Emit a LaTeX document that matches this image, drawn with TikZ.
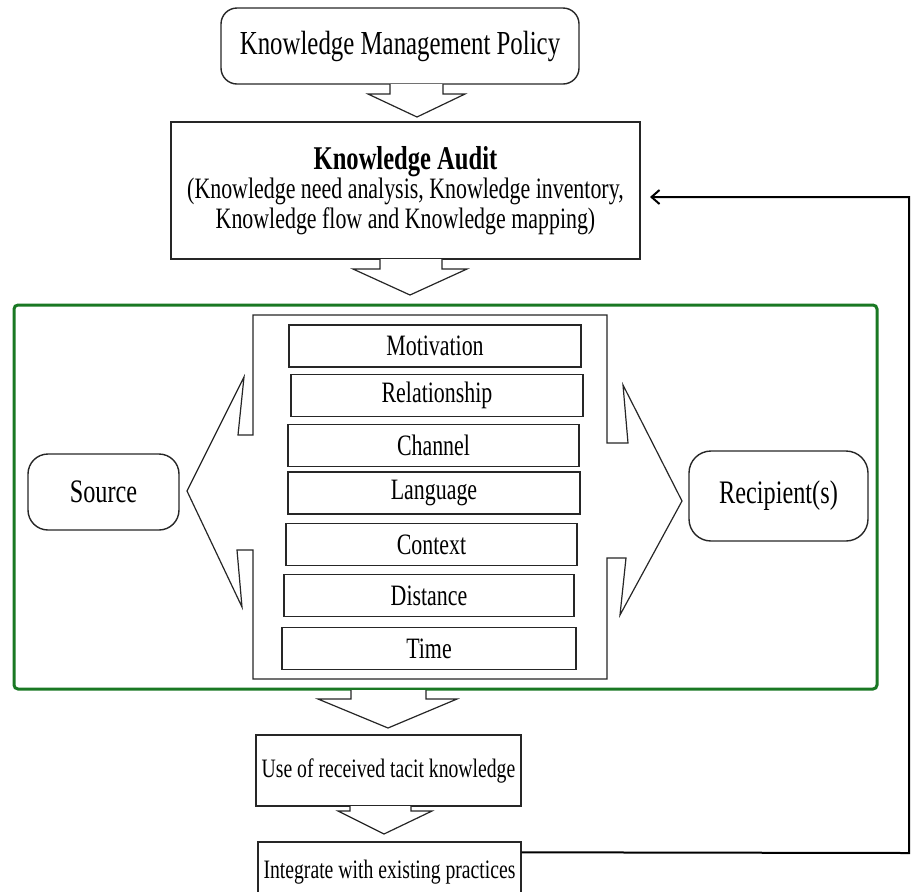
\documentclass[tikz,border=0pt]{standalone}
\usepackage{fontspec}
\setmainfont{Liberation Serif}[FakeStretch=0.74]
\usepackage{xcolor}
\usetikzlibrary{arrows.meta}
\definecolor{framegreen}{RGB}{25,120,35}
\newcommand{\policysize}{\fontsize{16.8}{19}\selectfont}
\newcommand{\auditsize}{\fontsize{14.8}{14.9}\selectfont}
\newcommand{\factorsize}{\fontsize{14.8}{17}\selectfont}
\newcommand{\sidesize}{\fontsize{16.4}{19}\selectfont}
\newcommand{\stepsize}{\fontsize{13.3}{15}\selectfont}

\begin{document}
\begin{tikzpicture}[x=0.5pt,y=-0.5pt,
  plainbox/.style={draw=black!85,line width=0.7pt,rectangle,align=center,inner sep=2pt},
  roundbox/.style={plainbox,rounded corners=8pt},
  factorbox/.style={plainbox,minimum height=21pt,font=\factorsize},
  blockarr/.style={draw=black!85,line width=0.6pt,fill=white,line join=miter},
  feedback/.style={draw=black,line width=1pt,-{Straight Barb[length=4pt,width=7pt]}}]
\path[use as bounding box,clip] (0,0) rectangle (911,891);

% top of the chain
\node[roundbox,minimum width=179pt,minimum height=38pt,font=\policysize] (policy) at (400,46) {Knowledge Management Policy};
\node[plainbox,minimum width=234.5pt,minimum height=68.5pt,font=\auditsize] (audit) at (405.5,190.5)
  {{\fontsize{16.6}{17}\selectfont\bfseries Knowledge Audit}\\(Knowledge need analysis, Knowledge inventory,\\Knowledge flow and Knowledge mapping)};

% transfer frame
\draw[framegreen,line width=1.5pt,rounded corners=2pt] (14,305) rectangle (877,689);
\draw[blockarr] (253,315) -- (607,315) -- (607,443) -- (628,443) -- (623,385) -- (682,501)
  -- (620,615) -- (626,558) -- (607,558) -- (607,679) -- (253,679) -- (253,550)
  -- (237,550) -- (242,607) -- (187,491) -- (244,377) -- (238,435) -- (253,435) -- cycle;

\node[factorbox,minimum width=146pt] (motiv) at (435,346) {Motivation};
\node[factorbox,minimum width=146pt] (relat) at (437,395.5) {Relationship};
\node[factorbox,minimum width=145.5pt] (chan) at (433.5,445.5) {Channel};
\node[factorbox,minimum width=146pt] (lang) at (434,493) {Language};
\node[factorbox,minimum width=145.5pt] (cont) at (431.5,544.5) {Context};
\node[factorbox,minimum width=145pt] (dist) at (429,595.5) {Distance};
\node[factorbox,minimum width=147pt] (time) at (429,648.5) {Time};

\node[roundbox,rounded corners=10pt,minimum width=75.5pt,minimum height=38pt,font=\sidesize] (source) at (103.5,492) {Source};
\node[roundbox,rounded corners=11pt,minimum width=89.5pt,minimum height=45pt,font=\sidesize] (recip) at (778.5,496) {Recipient(s)};

% after the transfer
\node[plainbox,minimum width=132.5pt,minimum height=35.5pt,font=\stepsize] (use) at (388.5,770.5) {Use of received tacit knowledge};
\node[plainbox,minimum width=131.5pt,minimum height=30pt,font=\stepsize] (integ) at (389.5,872) {Integrate with existing practices};

% block arrows
\draw[blockarr] (390,84) -- (390,94) -- (368,94) -- (417,117) -- (465,94) -- (443,94) -- (443,84);
\draw[blockarr] (380,259) -- (380,269) -- (353,269) -- (410,295) -- (467,269) -- (442,269) -- (442,259);
\draw[blockarr] (351,690) -- (351,699) -- (318,699) -- (388,728) -- (457,699) -- (426,699) -- (426,690);
\draw[blockarr] (350,806) -- (350,811) -- (338,811) -- (384,834) -- (432,811) -- (411,811) -- (411,806);

% feedback loop
\coordinate (fbbot) at (909,853);
\coordinate (fbtop) at (909,197);
\coordinate (fbend) at (650,197);
\draw[feedback] ([yshift=-5.5pt]integ.north east) -- (fbbot) -- (fbtop) -- (fbend);
\end{tikzpicture}
\end{document}
